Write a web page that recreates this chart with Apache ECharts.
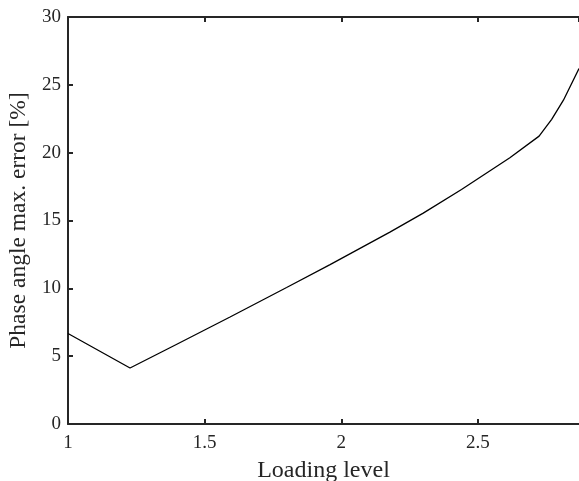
<!DOCTYPE html>
<html>
<head>
<meta charset="utf-8">
<script src="https://cdn.jsdelivr.net/npm/echarts@6/dist/echarts.min.js"></script>
<style>
html,body{margin:0;padding:0;background:#fff;}
#chart{width:579px;height:481px;}
</style>
</head>
<body>
<div id="chart"></div>
<script>
// Data
var loadingLevel = [1.0, 1.227, 1.4, 1.593, 1.8, 1.959, 2.178, 2.3, 2.44, 2.617, 2.724, 2.77, 2.813, 2.87];
var phaseError   = [6.67, 4.13, 5.90, 7.89, 10.06, 11.75, 14.14, 15.54, 17.29, 19.62, 21.22, 22.46, 23.87, 26.2];
var xTitle = 'Loading level';
var yTitle = 'Phase angle max. error [%]';

var points = loadingLevel.map(function (x, i) { return [x, phaseError[i]]; });
var FONT = 'Liberation Serif';
var AX = '#262626';

var chart = echarts.init(document.getElementById('chart'), null, {renderer: 'canvas'});
chart.setOption({
  animation: false,
  backgroundColor: '#fff',
  grid: {left: 68, right: 0, top: 17, bottom: 57, containLabel: false, outerBoundsMode: 'none'},
  xAxis: [{
    type: 'value', min: 1, max: 2.87, interval: 0.5, position: 'bottom',
    name: xTitle, nameLocation: 'middle', nameGap: 35,
    nameTextStyle: {fontFamily: FONT, fontSize: 24, color: '#262626'},
    axisLine: {show: true, onZero: false, lineStyle: {color: AX, width: 2}},
    axisTick: {show: true, inside: true, length: 5, lineStyle: {color: AX, width: 2}},
    axisLabel: {fontFamily: FONT, fontSize: 19, color: '#262626', margin: 10, showMaxLabel: false},
    splitLine: {show: false}
  }, {
    type: 'value', min: 1, max: 2.87, interval: 0.5, position: 'top',
    axisLine: {show: true, onZero: false, lineStyle: {color: AX, width: 2}},
    axisTick: {show: true, inside: true, length: 5, lineStyle: {color: AX, width: 2}},
    axisLabel: {show: false},
    splitLine: {show: false}
  }],
  yAxis: [{
    type: 'value', min: 0, max: 30, interval: 5, position: 'left',
    name: yTitle, nameLocation: 'middle', nameGap: 29,
    nameTextStyle: {fontFamily: FONT, fontSize: 23.5, color: '#262626'},
    axisLine: {show: true, onZero: false, lineStyle: {color: AX, width: 2}},
    axisTick: {show: true, inside: true, length: 5, lineStyle: {color: AX, width: 2}},
    axisLabel: {fontFamily: FONT, fontSize: 19, color: '#262626', margin: 7},
    splitLine: {show: false}
  }],
  series: [{
    type: 'line', xAxisIndex: 0, yAxisIndex: 0,
    data: points, showSymbol: false, symbol: 'none',
    lineStyle: {color: '#000', width: 1.3},
    clip: true
  }]
});
</script>
</body>
</html>
